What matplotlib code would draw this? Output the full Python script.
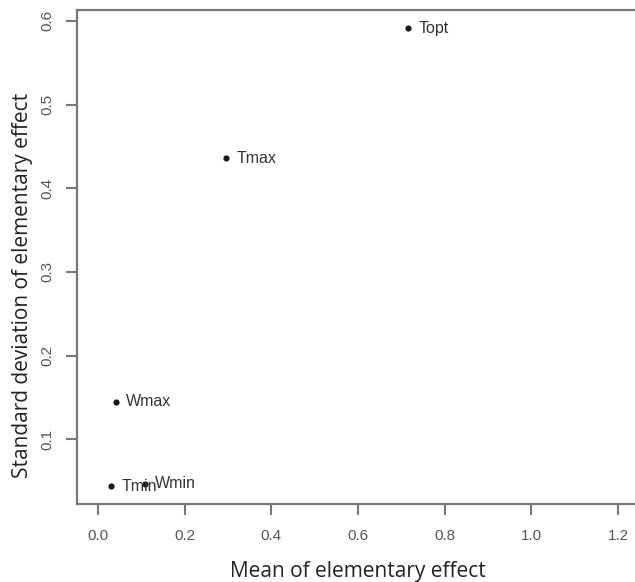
import matplotlib
matplotlib.use("Agg")
import matplotlib.pyplot as plt

names = ["Topt", "Tmax", "Wmax", "Tmin", "Wmin"]
mean_ee = [0.716, 0.296, 0.041, 0.031, 0.109]
sd_ee = [0.591, 0.436, 0.145, 0.044, 0.047]
xticks = [0.0, 0.2, 0.4, 0.6, 0.8, 1.0, 1.2]
yticks = [0.1, 0.2, 0.3, 0.4, 0.5, 0.6]

fig = plt.figure(figsize=(6.35, 5.82), dpi=100)
ax = fig.add_axes([77/635, 1-504/582, (639-77)/635, (504-10)/582])

ax.scatter(mean_ee, sd_ee, s=20, color="#1a1a1a", zorder=3, linewidths=0)
for n, x, y in zip(names, mean_ee, sd_ee):
    ax.annotate(n, (x, y), xytext=(10, 0), textcoords="offset pixels",
                va="center", ha="left", fontsize=11.5, color="#333333",
                family="Liberation Sans")

ax.set_xlim(-0.048, 1.248)
ax.set_ylim(0.0225, 0.613)
ax.set_xticks(xticks)
ax.set_yticks(yticks)
ax.set_xticklabels([f"{v:.1f}" for v in xticks], family="Liberation Sans", fontsize=11, color="#555555")
ax.set_yticklabels([f"{v:.1f}" for v in yticks], family="Liberation Sans", fontsize=11, color="#555555",
                   rotation=90, va="center")
ax.tick_params(axis="both", length=8, width=1.5, color="#777777")
ax.tick_params(axis="x", pad=10)
ax.tick_params(axis="y", pad=8)
for side in ["left", "bottom", "top"]:
    ax.spines[side].set_color("#777777")
    ax.spines[side].set_linewidth(1.6)
ax.spines["right"].set_visible(False)

ax.set_xlabel("Mean of elementary effect", family="Open Sans", fontsize=15, color="#222222", labelpad=13)
ax.set_ylabel("Standard deviation of elementary effect", family="Open Sans", fontsize=15, color="#222222")
ax.yaxis.set_label_coords(-0.078, 0.443)

fig.savefig("out.png", dpi=100)
